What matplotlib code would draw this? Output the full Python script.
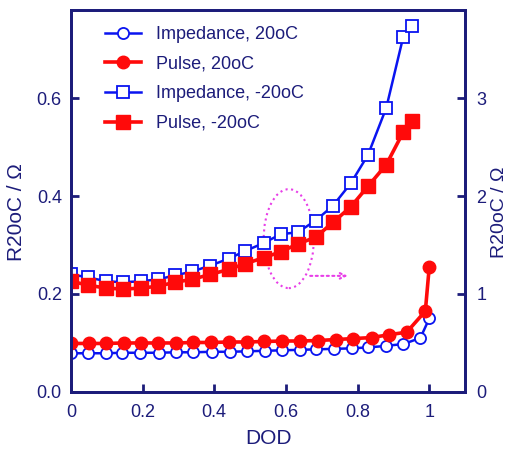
import matplotlib
matplotlib.use("Agg")
import matplotlib.pyplot as plt
from matplotlib.patches import Ellipse

plt.rcParams["font.family"] = ["Liberation Sans", "DejaVu Sans"]

NAVY = "#1c1c7a"
BLUE = "#0a14f0"
RED = "#ff0a0a"
MAGENTA = "#e83ee8"

# 20oC series (left axis)
imp20_x = [0, .049, .097, .144, .193, .245, .293, .342, .394, .443, .492,
           .541, .589, .639, .685, .735, .784, .830, .880, .928, .975, 1.0]
imp20_y = [.079, .079, .079, .080, .080, .080, .081, .081, .082, .082, .083,
           .084, .085, .086, .087, .088, .089, .091, .094, .098, .110, .150]
pul20_x = [0, .050, .098, .147, .195, .244, .293, .342, .392, .441, .490,
           .540, .589, .639, .689, .739, .788, .839, .889, .937, .989, 1.0]
pul20_y = [.099, .099, .099, .100, .100, .100, .100, .101, .101, .102, .102,
           .103, .104, .104, .105, .107, .109, .111, .117, .122, .165, .256]

# -20oC series (right axis)
m20_x = [0, .048, .098, .146, .196, .244, .291, .339, .389, .440, .487,
         .538, .585, .633, .683, .731, .781, .829, .880, .927, .952]
imp_m20_y = [1.20, 1.17, 1.13, 1.12, 1.13, 1.15, 1.19, 1.23, 1.29, 1.36, 1.44,
             1.52, 1.61, 1.63, 1.75, 1.90, 2.13, 2.42, 2.90, 3.62, 3.74]
pul_m20_y = [1.13, 1.09, 1.06, 1.05, 1.06, 1.08, 1.12, 1.15, 1.20, 1.25, 1.31,
             1.37, 1.43, 1.51, 1.58, 1.73, 1.89, 2.10, 2.32, 2.65, 2.77]

x_ticks = [0, 0.2, 0.4, 0.6, 0.8, 1]
x_labels = ["0", "0.2", "0.4", "0.6", "0.8", "1"]
left_ticks = [0.0, 0.2, 0.4, 0.6]
right_ticks = [0, 1, 2, 3]

fig = plt.figure(figsize=(5.1, 4.5), dpi=100)
ax = fig.add_axes([0.139, 0.129, 0.773, 0.849])
ax2 = ax.twinx()

h1, = ax.plot(imp20_x, imp20_y, "-o", color=BLUE, lw=1.8, ms=8,
              mfc="white", mec=BLUE, mew=1.3, label="Impedance, 20oC")
h2, = ax.plot(pul20_x, pul20_y, "-o", color=RED, lw=2.6, ms=9,
              mfc=RED, mec=RED, label="Pulse, 20oC")
h3, = ax2.plot(m20_x, imp_m20_y, "-s", color=BLUE, lw=1.8, ms=9,
               mfc="white", mec=BLUE, mew=1.3, label="Impedance, -20oC")
h4, = ax2.plot(m20_x, pul_m20_y, "-s", color=RED, lw=2.6, ms=9.5,
               mfc=RED, mec=RED, label="Pulse, -20oC")

ax.set_xlim(0, 1.1)
ax.set_ylim(0, 0.78)
ax2.set_ylim(0, 3.9)

ax.set_xticks(x_ticks)
ax.set_xticklabels(x_labels)
ax.set_yticks(left_ticks)
ax.set_yticklabels([f"{v:.1f}" for v in left_ticks])
ax2.set_yticks(right_ticks)

for a in (ax, ax2):
    for s in a.spines.values():
        s.set_color(NAVY)
        s.set_linewidth(2)
    a.tick_params(direction="in", color=NAVY, labelcolor=NAVY, width=2,
                  length=6, labelsize=13)
ax.tick_params(axis="x", pad=8.5)
ax.tick_params(axis="y", pad=6.5)
ax2.tick_params(axis="y", pad=8)

ax.set_xlabel("DOD", color=NAVY, fontsize=15, labelpad=6)
ax.set_ylabel("R20oC / \u03a9", color=NAVY, fontsize=15)
ax2.set_ylabel("R20oC / \u03a9", color=NAVY, fontsize=14)
ax.yaxis.set_label_coords(-0.114, 0.47)
ax2.yaxis.set_label_coords(1.066, 0.47)

# dotted ellipse with arrow pointing to the right axis
ax.add_patch(Ellipse((0.608, 0.313), 0.14, 0.202, fill=False,
                     edgecolor=MAGENTA, linestyle=":", lw=1.5, zorder=5))
ax.annotate("", xy=(0.78, 0.237), xytext=(0.66, 0.237),
            arrowprops=dict(arrowstyle="->", color=MAGENTA, lw=1.5,
                            linestyle=":"))

leg = ax2.legend(handles=[h1, h2, h3, h4], loc="upper left",
                 bbox_to_anchor=(0.086, 0.958), frameon=False, fontsize=13,
                 borderpad=0, borderaxespad=0,
                 handlelength=2.0, handletextpad=0.85, labelspacing=0.7)
for t in leg.get_texts():
    t.set_color(NAVY)

fig.savefig("out.png", dpi=100)
